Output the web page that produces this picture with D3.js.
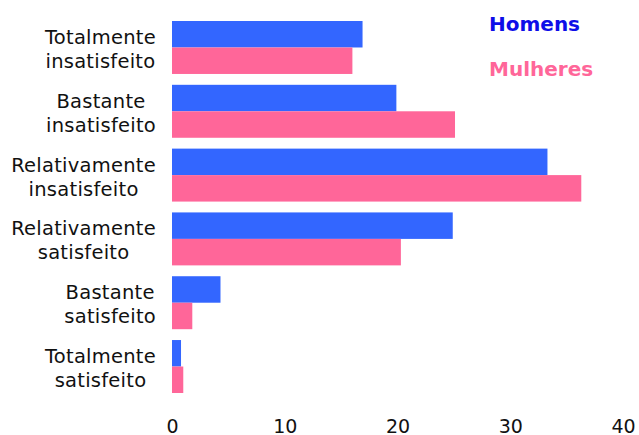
<!DOCTYPE html>
<html>
<head>
<meta charset="utf-8">
<script src="https://d3js.org/d3.v7.min.js"></script>
<style>
  body { margin: 0; background: #fff; }
  svg text { font-family: "DejaVu Sans", Verdana, sans-serif; }
</style>
</head>
<body>
<svg id="chart"></svg>
<script>
  // dados
  var categories = ["Totalmente insatisfeito", "Bastante insatisfeito", "Relativamente insatisfeito",
                    "Relativamente satisfeito", "Bastante satisfeito", "Totalmente satisfeito"]
  var series = ["Homens", "Mulheres"]
  var homens = [16.9, 19.9, 33.3, 24.9, 4.3, 0.8]
  var mulheres = [16.0, 25.1, 36.3, 20.3, 1.8, 1.0]
  var ticks = [0, 10, 20, 30, 40]

  var colors = { Homens: "#3366ff", Mulheres: "#ff6699" }
  var legendColors = { Homens: "#0d0de8", Mulheres: "#ff6699" }

  var width = 639, height = 435
  var svg = d3.select("#chart").attr("width", width).attr("height", height)

  var x = d3.scaleLinear().domain([0, 40]).range([172, 623])
  var y = d3.scaleBand().domain(categories).range([21, 393]).paddingInner(0.17)
  var ySub = d3.scaleBand().domain(series).range([0, y.bandwidth()])

  var rows = categories.map(function (c, i) {
    return { cat: c, values: [{ s: "Homens", v: homens[i] }, { s: "Mulheres", v: mulheres[i] }] }
  })

  var g = svg.selectAll("g.row").data(rows).enter().append("g")
    .attr("class", "row")
    .attr("transform", function (d) { return "translate(0," + y(d.cat) + ")" })

  g.selectAll("rect").data(function (d) { return d.values }).enter().append("rect")
    .attr("x", x(0))
    .attr("y", function (d) { return ySub(d.s) })
    .attr("width", function (d) { return x(d.v) - x(0) })
    .attr("height", ySub.bandwidth())
    .attr("fill", function (d) { return colors[d.s] })

  // rótulos das categorias (duas linhas, centradas)
  var labels = g.append("text")
    .attr("font-size", 19.5)
    .attr("letter-spacing", 0.25)
    .attr("fill", "#111")
    .attr("text-anchor", "middle")
  labels.each(function (d) {
    var t = d3.select(this)
    var parts = d.cat.split(" ")
    var mid = y.bandwidth() / 2
    t.append("tspan").attr("y", mid - 3.5).text(parts[0])
    t.append("tspan").attr("y", mid + 20.5).text(parts[1])
    var w = 0
    t.selectAll("tspan").each(function () { w = Math.max(w, this.getComputedTextLength()) })
    t.selectAll("tspan").attr("x", 156 - w / 2)
  })

  // eixo x (só os números)
  var axis = d3.axisBottom(x).tickValues(ticks).tickSize(0).tickPadding(0)
  var ax = svg.append("g").attr("transform", "translate(0,433)").call(axis)
  ax.select(".domain").remove()
  ax.selectAll("text").attr("font-size", 19).attr("fill", "#111")
    .attr("font-family", "DejaVu Sans, Verdana, sans-serif").attr("dy", 0).attr("y", 0)

  // legenda
  svg.selectAll("text.legend").data(series).enter().append("text")
    .attr("class", "legend")
    .attr("x", 489)
    .attr("y", function (d, i) { return 31 + i * 45 })
    .attr("font-size", 20)
    .attr("font-weight", "bold")
    .attr("fill", function (d) { return legendColors[d] })
    .text(function (d) { return d })
</script>
</body>
</html>
